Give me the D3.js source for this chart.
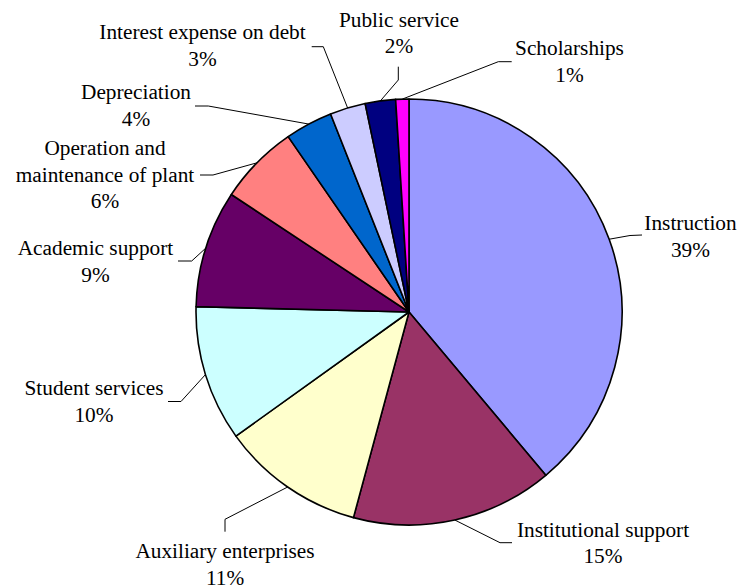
<!DOCTYPE html>
<html>
<head>
<meta charset="utf-8">
<script src="https://cdn.jsdelivr.net/npm/d3@7"></script>
</head>
<body style="margin:0">
<div class="chart"></div>
<script>
var categories = ["Instruction", "Institutional support", "Auxiliary enterprises", "Student services",
  "Academic support", "Operation and maintenance of plant", "Depreciation",
  "Interest expense on debt", "Public service", "Scholarships"];
var values = [38.9, 15.3, 10.9, 10.3, 8.9, 6.1, 3.6, 2.7, 2.3, 1.0];
var colors = ["#9999ff", "#993366", "#ffffcc", "#ccffff", "#660066", "#ff8080", "#0066cc", "#ccccff", "#000080", "#ff00ff"];
// label lines as they are broken in the picture
var labelLines = [["Instruction"], ["Institutional support"], ["Auxiliary enterprises"], ["Student services"],
  ["Academic support"], ["Operation and", "maintenance of plant"], ["Depreciation"],
  ["Interest expense on debt"], ["Public service"], ["Scholarships"]];

var svgWidth = 740;
var svgHeight = 587;
var cx = 409, cy = 312, radius = 213;
var lineH = 26.7;

// label placement: text centre/baseline, leader elbow, leader end
var layout = [
  {x: 690.5, y: 230,   ex: 630, ey: 235.5, tx: 642, ty: 235},
  {x: 603,   y: 536.7, ex: 500, ey: 542.7, tx: 512, ty: 542.7},
  {x: 225,   y: 558,   ex: 225, ey: 519.3, tx: 225, ty: 531.7},
  {x: 94,    y: 395,   ex: 181, ey: 401.5, tx: 168, ty: 401.5},
  {x: 95.5,  y: 255,   ex: 191.7, ey: 261, tx: 178, ty: 261},
  {x: 105,   y: 155,   ex: 213, ey: 175, tx: 200, ty: 175},
  {x: 136,   y: 99.3,  ex: 208.3, ey: 106, tx: 195, ty: 106},
  {x: 202.5, y: 39.3,  ex: 323.3, ey: 46.7, tx: 311.7, ty: 46.7},
  {x: 399,   y: 26.7,  ex: 398.3, ey: 80, tx: 398.3, ty: 66.7},
  {x: 569.5, y: 55,    ex: 498.3, ey: 61.7, tx: 511.7, ty: 61.7}
];

var total = d3.sum(values);
var dataset = categories.map(function(c, i) {
  return {name: c, value: values[i], color: colors[i], lines: labelLines[i], pos: layout[i]};
});

var svg = d3.select(".chart")
            .append("svg")
            .attr("width", svgWidth)
            .attr("height", svgHeight)
            .attr("font-family", "Liberation Serif")
            .style("font-family", "'Liberation Serif'");

var pie = d3.pie().sort(null).value(function(d) { return d.value; });
var arc = d3.arc().innerRadius(0).outerRadius(radius);
var rimArc = d3.arc().innerRadius(radius).outerRadius(radius);

var g = svg.append("g").attr("transform", "translate(" + cx + "," + cy + ")");
var arcs = pie(dataset);

g.selectAll("path.slice")
    .data(arcs)
    .enter()
    .append("path")
    .attr("class", "slice")
    .attr("d", arc)
    .attr("fill", function(d) { return d.data.color; })
    .attr("stroke", "#000")
    .attr("stroke-width", 1.6)
    .attr("stroke-linejoin", "round");

// leader lines
svg.selectAll("polyline")
    .data(arcs)
    .enter()
    .append("polyline")
    .attr("fill", "none")
    .attr("stroke", "#000")
    .attr("stroke-width", 1)
    .attr("points", function(d) {
      var c = rimArc.centroid(d);
      var p = d.data.pos;
      return [[c[0] + cx, c[1] + cy], [p.ex, p.ey], [p.tx, p.ty]].join(" ");
    });

// labels: one text element per line, centred by measuring
var labelRows = [];
arcs.forEach(function(d) {
  var lines = d.data.lines.concat([Math.round(d.data.value / total * 100) + "%"]);
  lines.forEach(function(l, i) {
    labelRows.push({text: l, x: d.data.pos.x, y: d.data.pos.y + i * lineH});
  });
});

svg.selectAll("text")
    .data(labelRows)
    .enter()
    .append("text")
    .attr("y", function(d) { return d.y; })
    .attr("font-size", "21.3px")
    .attr("font-family", "Liberation Serif")
    .style("font-family", "'Liberation Serif'")
    .text(function(d) { return d.text; })
    .attr("x", function(d) { return d.x - this.getComputedTextLength() / 2; });
</script>
</body>
</html>
